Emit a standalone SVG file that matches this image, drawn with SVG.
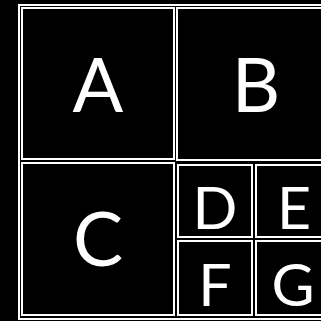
<svg xmlns="http://www.w3.org/2000/svg" width="321" height="321" viewBox="0 0 321 321">
<style>
.cell{fill:#000;stroke:#fff;stroke-width:2}
.big{fill:#fff;font-family:Lato,"Open Sans",sans-serif;font-size:75px;text-anchor:middle}
.small{fill:#fff;font-family:Lato,"Open Sans",sans-serif;font-size:59px;text-anchor:middle}
</style>
<rect x="0" y="0" width="321" height="321" fill="#000"/>
<g id="root"><rect class="cell" x="19" y="5" width="314" height="314"/></g>
<g id="A"><rect class="cell" x="22" y="8" width="152" height="151"/><text class="big" x="98" y="112">A</text></g>
<g id="B"><rect class="cell" x="177" y="8" width="153" height="152"/><text class="big" x="256" y="112">B</text></g>
<g id="C"><rect class="cell" x="22" y="163" width="152" height="152"/><text class="big" x="98" y="266">C</text></g>
<g id="D"><rect class="cell" x="178" y="165" width="74" height="72"/><text class="small" x="215" y="229">D</text></g>
<g id="E"><rect class="cell" x="256" y="165" width="74" height="72"/><text class="small" x="294" y="229">E</text></g>
<g id="F"><rect class="cell" x="178" y="241" width="74" height="74"/><text class="small" x="215" y="306">F</text></g>
<g id="G"><rect class="cell" x="256" y="241" width="74" height="74"/><text class="small" x="293" y="306">G</text></g>
</svg>
